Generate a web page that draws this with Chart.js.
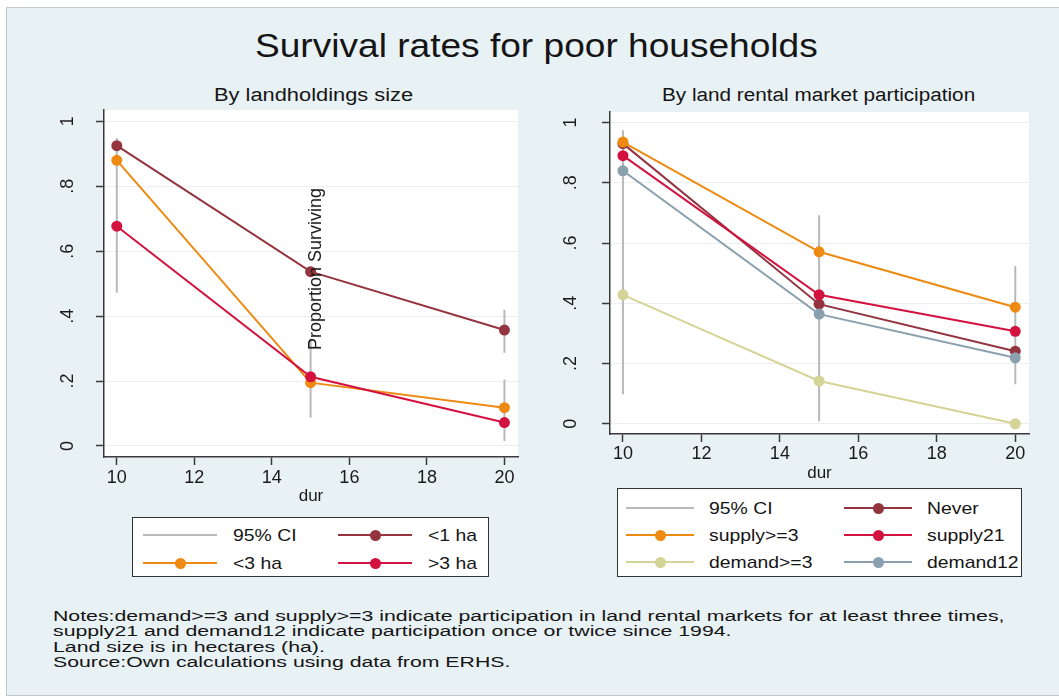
<!DOCTYPE html>
<html>
<head>
<meta charset="utf-8">
<script src="https://cdn.jsdelivr.net/npm/chart.js@4.4.1/dist/chart.umd.min.js"></script>
<style>
  body { margin: 0; width: 1059px; height: 698px; background: #fff; position: relative; overflow: hidden;
         font-family: "Liberation Sans", Arial, sans-serif; color: #151515; }
  #panel { position: absolute; left: 6px; top: 7px; width: 1053px; height: 687px; background: #e8f1f4;
           border-left: 1px solid #c3c9cc; border-top: 1px solid #c3c9cc; border-bottom: 1px solid #c3c9cc; }
  .txt { position: absolute; white-space: nowrap; transform-origin: 0 0; }
  canvas { position: absolute; }
  .legend { position: absolute; box-sizing: border-box; border: 1px solid #333; background: #fff; }
  .sym { position: absolute; height: 2px; }
  .dot { position: absolute; width: 11px; height: 11px; border-radius: 50%; top: -4.5px; }
  .lab { position: absolute; white-space: nowrap; font-size: 17px; line-height: 17px; transform-origin: 0 50%; transform: scaleX(1.14); }
</style>
</head>
<body>
<div id="panel"></div>

<div class="txt" id="title" style="left:255px; top:28.8px; font-size:33px; line-height:33px;">Survival rates for poor households</div>
<div class="txt" id="subLeft" style="top:85.8px; font-size:18px; line-height:18px;">By landholdings size</div>
<div class="txt" id="subRight" style="top:85.8px; font-size:18px; line-height:18px;">By land rental market participation</div>

<canvas id="leftChart" width="500" height="410" style="left:30px; top:100px; width:500px; height:410px;"></canvas>
<canvas id="rightChart" width="529" height="388" style="left:530px; top:100px; width:529px; height:388px;"></canvas>

<div class="txt" id="yTitle" style="left:315px; top:269px; font-size:18px; line-height:18px; transform-origin:50% 50%; transform:translate(-50%,-50%) rotate(-90deg);">Proportion Surviving</div>

<div class="legend" id="leftLegend" style="left:132px; top:517px; width:357px; height:60px;"></div>
<div class="legend" id="rightLegend" style="left:617px; top:488px; width:405px; height:89px;"></div>

<div id="notes"></div>

<script>
// data
const durations = [10, 15, 20]
const xTickValues = [10, 12, 14, 16, 18, 20]
const xTickLabels = ["10", "12", "14", "16", "18", "20"]
const yTickValues = [0, 0.2, 0.4, 0.6, 0.8, 1]
const yTickLabels = ["0", ".2", ".4", ".6", ".8", "1"]
const xTitle = "dur"

// left panel: by landholdings size
const under1ha = [0.925, 0.537, 0.357]
const under3ha = [0.880, 0.195, 0.118]
const over3ha = [0.677, 0.213, 0.072]
const leftCiX = [10, 15, 20, 20]
const leftCiLow = [0.472, 0.088, 0.287, 0.015]
const leftCiHigh = [0.949, 0.330, 0.420, 0.205]

// right panel: by land rental market participation
const never = [0.930, 0.397, 0.241]
const supply3 = [0.935, 0.571, 0.387]
const supply21 = [0.890, 0.428, 0.307]
const demand3 = [0.428, 0.142, 0.000]
const demand12 = [0.840, 0.364, 0.219]
const rightCiX = [10, 15, 20]
const rightCiLow = [0.098, 0.008, 0.131]
const rightCiHigh = [0.974, 0.692, 0.524]

const notesLines = [
    "Notes:demand>=3 and supply>=3 indicate participation in land rental markets for at least three times,",
    "supply21 and demand12 indicate participation once or twice since 1994.",
    "Land size is in hectares (ha).",
    "Source:Own calculations using data from ERHS."
]

const xMin = 9.67, xMax = 20.35
const yMin = -0.034, yMax = 1.035

Chart.defaults.font.family = '"Liberation Sans", Arial, sans-serif'
Chart.defaults.font.size = 18
Chart.defaults.color = '#1a1a1a'


function toPoints(values) {
    return durations.map((d, i) => ({ x: d, y: values[i] }))
}


function ciSet(xs, lows, highs) {
    let pts = []
    xs.forEach((x, i) => {
        pts.push({ x: x, y: lows[i] }, { x: x, y: highs[i] }, { x: x, y: null })
    })
    return {
        label: "95% CI", data: pts, borderColor: '#b9b9b9', borderWidth: 2,
        pointRadius: 0, pointHoverRadius: 0, spanGaps: false, order: 99
    }
}


function seriesSet(label, values, color, order) {
    return {
        label: label, data: toPoints(values), borderColor: color, backgroundColor: color,
        pointBackgroundColor: color, borderWidth: 2, pointRadius: 5.5, pointHoverRadius: 5.5,
        pointBorderWidth: 0, order: order
    }
}


// white plot region
const plotBg = {
    id: 'plotBg',
    beforeDraw(chart) {
        let a = chart.chartArea
        chart.ctx.save()
        chart.ctx.fillStyle = '#ffffff'
        chart.ctx.fillRect(a.left, a.top, a.right - a.left, a.bottom - a.top)
        chart.ctx.restore()
    }
}

// stata style vertical tick labels
const yLabels = {
    id: 'yLabels',
    afterDraw(chart, args, opts) {
        let ctx = chart.ctx
        let yScale = chart.scales.y
        ctx.save()
        ctx.font = '18px "Liberation Sans", Arial, sans-serif'
        ctx.fillStyle = '#1a1a1a'
        ctx.textAlign = 'center'
        ctx.textBaseline = 'middle'
        yScale.ticks.forEach((t, i) => {
            ctx.save()
            ctx.translate(chart.chartArea.left - opts.offset, yScale.getPixelForTick(i))
            ctx.rotate(-Math.PI / 2)
            ctx.fillText(yTickLabels[i], 0, 0)
            ctx.restore()
        })
        ctx.restore()
    }
}


function makeOptions(o) {
    return {
        responsive: false,
        animation: false,
        devicePixelRatio: 1,
        layout: { padding: { top: o.top, right: o.right, left: 0, bottom: 0 } },
        plugins: {
            legend: { display: false },
            tooltip: { enabled: false },
            yLabels: { offset: o.labelOffset }
        },
        scales: {
            x: {
                type: 'linear', min: xMin, max: xMax,
                afterBuildTicks: function (s) { s.ticks = xTickValues.map(v => ({ value: v })) },
                afterFit: function (s) { s.height = o.xHeight },
                ticks: { autoSkip: false, maxRotation: 0, padding: o.tickPad, callback: (v, i) => xTickLabels[i] },
                grid: { drawOnChartArea: false, drawTicks: true, tickLength: 8, tickColor: '#3a3a3a', tickWidth: 1.5 },
                border: { display: true, color: '#3a3a3a', width: 1.5 },
                title: { display: true, text: xTitle, font: { size: 17 }, padding: { top: 0, bottom: o.titlePad } }
            },
            y: {
                type: 'linear', min: yMin, max: yMax,
                afterBuildTicks: function (s) { s.ticks = yTickValues.map(v => ({ value: v })) },
                afterFit: function (s) { s.width = o.yWidth },
                ticks: { display: false },
                grid: { color: '#eeeeee', lineWidth: 1, drawTicks: true, tickLength: 8, tickColor: '#3a3a3a', tickWidth: 1.5 },
                border: { display: true, color: '#3a3a3a', width: 1.5 }
            }
        }
    }
}


let leftSets = [
    ciSet(leftCiX, leftCiLow, leftCiHigh),
    seriesSet("<1 ha", under1ha, '#93343f', 3),
    seriesSet("<3 ha", under3ha, '#ee8a12', 2),
    seriesSet(">3 ha", over3ha, '#d3123f', 1)
]

let rightSets = [
    ciSet(rightCiX, rightCiLow, rightCiHigh),
    seriesSet("Never", never, '#93343f', 5),
    seriesSet("supply>=3", supply3, '#ee8a12', 4),
    seriesSet("supply21", supply21, '#d3123f', 3),
    seriesSet("demand>=3", demand3, '#d5d497', 2),
    seriesSet("demand12", demand12, '#8aa0ae', 1)
]

let leftChart = new Chart(document.getElementById('leftChart'), {
    type: 'line',
    data: { datasets: leftSets },
    options: makeOptions({ top: 10, right: 12, yWidth: 74, xHeight: 53, tickPad: 2, titlePad: 3, labelOffset: 36 }),
    plugins: [plotBg, yLabels]
})

let rightChart = new Chart(document.getElementById('rightChart'), {
    type: 'line',
    data: { datasets: rightSets },
    options: makeOptions({ top: 12, right: 30, yWidth: 80, xHeight: 54, tickPad: 1, titlePad: 4, labelOffset: 39 }),
    plugins: [plotBg, yLabels]
})


function buildLegend(id, chart, lay) {
    let box = document.getElementById(id)
    chart.data.datasets.forEach((ds, i) => {
        let row = Math.floor(i / 2)
        let col = i % 2
        let cy = lay.firstRow + row * lay.rowStep

        let sym = document.createElement('div')
        sym.className = 'sym'
        sym.style.left = (lay.symLeft + col * lay.colStep) + 'px'
        sym.style.top = (cy - 1) + 'px'
        sym.style.width = lay.symWidth + 'px'
        sym.style.background = ds.borderColor
        if (ds.pointRadius > 0) {
            let dot = document.createElement('div')
            dot.className = 'dot'
            dot.style.left = (lay.symWidth / 2 - 5.5) + 'px'
            dot.style.background = ds.borderColor
            sym.appendChild(dot)
        }
        box.appendChild(sym)

        let lab = document.createElement('div')
        lab.className = 'lab'
        lab.textContent = ds.label
        lab.style.left = (lay.labelLeft + col * lay.colStep) + 'px'
        lab.style.top = (cy - 8.5) + 'px'
        box.appendChild(lab)
    })
}

buildLegend('leftLegend', leftChart, { firstRow: 17, rowStep: 28, symLeft: 10, symWidth: 74, labelLeft: 100, colStep: 195 })
buildLegend('rightLegend', rightChart, { firstRow: 19, rowStep: 27, symLeft: 8, symWidth: 68, labelLeft: 91, colStep: 218 })


// stretch text to the width it has in the picture
function fitWidth(el, width) {
    let s = width / el.offsetWidth
    el.style.transform = 'scaleX(' + s + ')'
    return s
}

fitWidth(document.getElementById('title'), 563)

let subLeft = document.getElementById('subLeft')
subLeft.style.left = (313 - 199 / 2) + 'px'
fitWidth(subLeft, 199)

let subRight = document.getElementById('subRight')
subRight.style.left = (818.5 - 313 / 2) + 'px'
fitWidth(subRight, 313)

let notes = document.getElementById('notes')
let noteScale = 1
notesLines.forEach((line, i) => {
    let el = document.createElement('div')
    el.className = 'txt'
    el.textContent = line
    el.style.left = '53px'
    el.style.top = (608 + i * 15.4) + 'px'
    el.style.fontSize = '15.5px'
    el.style.lineHeight = '15.5px'
    notes.appendChild(el)
    if (i === 0) {
        noteScale = fitWidth(el, 952)
    } else {
        el.style.transform = 'scaleX(' + noteScale + ')'
    }
})
</script>
</body>
</html>
